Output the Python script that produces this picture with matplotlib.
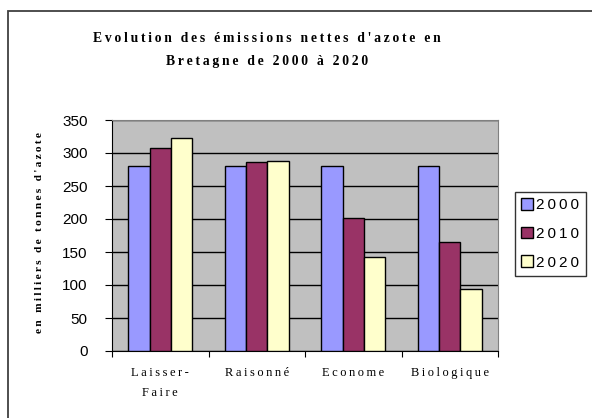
import matplotlib
matplotlib.use("Agg")
import matplotlib.pyplot as plt
import numpy as np
from matplotlib.patches import Rectangle

categories = ["Laisser-\nFaire", "Raisonné", "Econome", "Biologique"]
series_names = ["2000", "2010", "2020"]
v2000 = [280, 280, 280, 280]
v2010 = [307, 286, 201, 165]
v2020 = [322, 288, 143, 94]
colors = ["#9999FF", "#993366", "#FFFFCC"]
title = "Evolution des émissions nettes d'azote en\nBretagne de 2000 à 2020"
ylabel = "en milliers de tonnes d'azote"

def spaced(s, sep="\u2009"):
    return "\n".join(sep.join(list(line)) for line in s.split("\n"))

serif = ["Liberation Serif", "DejaVu Serif"]
sans = ["Liberation Sans", "DejaVu Sans"]

fig = plt.figure(figsize=(5.92, 4.18), dpi=100)
fig.patch.set_facecolor("white")
fig.patches.append(Rectangle((8/592, -0.1), 0.99, 1-11/418+0.1,
                             transform=fig.transFigure, fill=False,
                             edgecolor="#404040", linewidth=1.3))

ax = fig.add_axes([112/592, 1-351/418, (498-112)/592, (351-120)/418])
ax.set_facecolor("#C0C0C0")
x = np.arange(len(categories))
w = 0.222
for i, (vals, c, n) in enumerate(zip([v2000, v2010, v2020], colors, series_names)):
    ax.bar(x + (i-1)*w, vals, w, color=c, edgecolor="black", linewidth=1.0,
           label=spaced(n), zorder=3)
ax.set_xlim(-0.5, len(categories)-0.5)
ax.set_ylim(0, 350)
ax.set_yticks(np.arange(0, 351, 50))
ax.yaxis.grid(True, color="black", linewidth=1.0, zorder=1)
ax.set_axisbelow(True)
ax.tick_params(axis="y", direction="out", length=5, labelsize=11, pad=12.5)
for lab in ax.get_yticklabels():
    lab.set_fontfamily(sans)
ax.set_xticks(np.arange(-0.5, len(categories), 1))
ax.set_xticklabels([])
ax.tick_params(axis="x", direction="out", length=4)
for k, cat in enumerate(categories):
    ax.text(k, -24, spaced(cat), ha="center", va="top", fontsize=9,
            family=serif, linespacing=1.9, transform=ax.transData)
for s in ["top", "right"]:
    ax.spines[s].set_color("#808080")
for s in ["left", "bottom"]:
    ax.spines[s].set_color("black")

fig.text(267/592, 1-50/418, spaced(title), ha="center", va="center",
         fontsize=9.8, fontweight="bold", family=serif, linespacing=2.0)
fig.text(40/592, 1-233/418, spaced(ylabel), rotation=90, ha="center",
         va="center", fontsize=8.2, fontweight="bold", family=serif)

leg = fig.legend(loc="upper left", bbox_to_anchor=(515/592, 1-192/418),
                 frameon=True, fancybox=False, edgecolor="black",
                 prop={"family": sans, "size": 11},
                 handlelength=0.8, handleheight=0.8, handletextpad=0.2,
                 borderpad=0.4, labelspacing=0.95, borderaxespad=0)
leg.get_frame().set_linewidth(1.0)

fig.savefig("out.png", dpi=100)
